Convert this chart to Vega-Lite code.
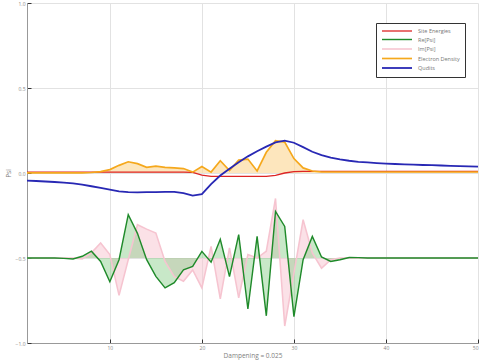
{
  "$schema": "https://vega.github.io/schema/vega-lite/v6.json",
  "autosize": "none",
  "width": 451,
  "height": 340,
  "padding": {"left": 27, "top": 3, "right": 2, "bottom": 17},
  "background": "white",
  "config": {
    "view": {"stroke": null},
    "font": "Open Sans",
    "axis": {
      "gridColor": "#e2e2e2",
      "gridWidth": 1,
      "domainColor": "#999999",
      "tickColor": "#333333",
      "tickSize": -4,
      "labelColor": "#888888",
      "labelFontSize": 5,
      "titleColor": "#808080",
      "titleFontWeight": "normal"
    }
  },
  "data": {
    "values": [
      {"x":1,"s":"Im[Psi]","y":-0.5},{"x":2,"s":"Im[Psi]","y":-0.5},{"x":3,"s":"Im[Psi]","y":-0.5},{"x":4,"s":"Im[Psi]","y":-0.5},{"x":5,"s":"Im[Psi]","y":-0.5},{"x":6,"s":"Im[Psi]","y":-0.5},{"x":7,"s":"Im[Psi]","y":-0.505},{"x":8,"s":"Im[Psi]","y":-0.47},{"x":9,"s":"Im[Psi]","y":-0.412},{"x":10,"s":"Im[Psi]","y":-0.48},
      {"x":11,"s":"Im[Psi]","y":-0.72},{"x":12,"s":"Im[Psi]","y":-0.51},{"x":13,"s":"Im[Psi]","y":-0.304},{"x":14,"s":"Im[Psi]","y":-0.33},{"x":15,"s":"Im[Psi]","y":-0.353},{"x":16,"s":"Im[Psi]","y":-0.52},{"x":17,"s":"Im[Psi]","y":-0.61},{"x":18,"s":"Im[Psi]","y":-0.637},{"x":19,"s":"Im[Psi]","y":-0.57},{"x":20,"s":"Im[Psi]","y":-0.676},
      {"x":21,"s":"Im[Psi]","y":-0.432},{"x":22,"s":"Im[Psi]","y":-0.74},{"x":23,"s":"Im[Psi]","y":-0.441},{"x":24,"s":"Im[Psi]","y":-0.735},{"x":25,"s":"Im[Psi]","y":-0.48},{"x":26,"s":"Im[Psi]","y":-0.5},{"x":27,"s":"Im[Psi]","y":-0.46},{"x":28,"s":"Im[Psi]","y":-0.15},{"x":29,"s":"Im[Psi]","y":-0.9},{"x":30,"s":"Im[Psi]","y":-0.59},
      {"x":31,"s":"Im[Psi]","y":-0.275},{"x":32,"s":"Im[Psi]","y":-0.47},{"x":33,"s":"Im[Psi]","y":-0.56},{"x":34,"s":"Im[Psi]","y":-0.51},{"x":35,"s":"Im[Psi]","y":-0.5},{"x":36,"s":"Im[Psi]","y":-0.5},{"x":37,"s":"Im[Psi]","y":-0.5},{"x":38,"s":"Im[Psi]","y":-0.5},{"x":39,"s":"Im[Psi]","y":-0.5},{"x":40,"s":"Im[Psi]","y":-0.5},
      {"x":41,"s":"Im[Psi]","y":-0.5},{"x":42,"s":"Im[Psi]","y":-0.5},{"x":43,"s":"Im[Psi]","y":-0.5},{"x":44,"s":"Im[Psi]","y":-0.5},{"x":45,"s":"Im[Psi]","y":-0.5},{"x":46,"s":"Im[Psi]","y":-0.5},{"x":47,"s":"Im[Psi]","y":-0.5},{"x":48,"s":"Im[Psi]","y":-0.5},{"x":49,"s":"Im[Psi]","y":-0.5},{"x":50,"s":"Im[Psi]","y":-0.5},

      {"x":1,"s":"Site Energies","y":0.005},{"x":2,"s":"Site Energies","y":0.005},{"x":3,"s":"Site Energies","y":0.005},{"x":4,"s":"Site Energies","y":0.005},{"x":5,"s":"Site Energies","y":0.005},{"x":6,"s":"Site Energies","y":0.005},{"x":7,"s":"Site Energies","y":0.005},{"x":8,"s":"Site Energies","y":0.005},{"x":9,"s":"Site Energies","y":0.005},{"x":10,"s":"Site Energies","y":0.005},
      {"x":11,"s":"Site Energies","y":0.005},{"x":12,"s":"Site Energies","y":0.005},{"x":13,"s":"Site Energies","y":0.005},{"x":14,"s":"Site Energies","y":0.005},{"x":15,"s":"Site Energies","y":0.005},{"x":16,"s":"Site Energies","y":0.005},{"x":17,"s":"Site Energies","y":0.005},{"x":18,"s":"Site Energies","y":0.005},{"x":19,"s":"Site Energies","y":0.004},{"x":20,"s":"Site Energies","y":-0.012},
      {"x":21,"s":"Site Energies","y":-0.02},{"x":22,"s":"Site Energies","y":-0.02},{"x":23,"s":"Site Energies","y":-0.02},{"x":24,"s":"Site Energies","y":-0.02},{"x":25,"s":"Site Energies","y":-0.02},{"x":26,"s":"Site Energies","y":-0.02},{"x":27,"s":"Site Energies","y":-0.02},{"x":28,"s":"Site Energies","y":-0.014},{"x":29,"s":"Site Energies","y":0.0},{"x":30,"s":"Site Energies","y":0.008},
      {"x":31,"s":"Site Energies","y":0.01},{"x":32,"s":"Site Energies","y":0.01},{"x":33,"s":"Site Energies","y":0.01},{"x":34,"s":"Site Energies","y":0.01},{"x":35,"s":"Site Energies","y":0.01},{"x":36,"s":"Site Energies","y":0.01},{"x":37,"s":"Site Energies","y":0.01},{"x":38,"s":"Site Energies","y":0.01},{"x":39,"s":"Site Energies","y":0.01},{"x":40,"s":"Site Energies","y":0.01},
      {"x":41,"s":"Site Energies","y":0.01},{"x":42,"s":"Site Energies","y":0.01},{"x":43,"s":"Site Energies","y":0.01},{"x":44,"s":"Site Energies","y":0.01},{"x":45,"s":"Site Energies","y":0.01},{"x":46,"s":"Site Energies","y":0.01},{"x":47,"s":"Site Energies","y":0.01},{"x":48,"s":"Site Energies","y":0.01},{"x":49,"s":"Site Energies","y":0.01},{"x":50,"s":"Site Energies","y":0.01},

      {"x":1,"s":"Re[Psi]","y":-0.5},{"x":2,"s":"Re[Psi]","y":-0.5},{"x":3,"s":"Re[Psi]","y":-0.5},{"x":4,"s":"Re[Psi]","y":-0.5},{"x":5,"s":"Re[Psi]","y":-0.502},{"x":6,"s":"Re[Psi]","y":-0.506},{"x":7,"s":"Re[Psi]","y":-0.49},{"x":8,"s":"Re[Psi]","y":-0.46},{"x":9,"s":"Re[Psi]","y":-0.52},{"x":10,"s":"Re[Psi]","y":-0.64},
      {"x":11,"s":"Re[Psi]","y":-0.51},{"x":12,"s":"Re[Psi]","y":-0.245},{"x":13,"s":"Re[Psi]","y":-0.355},{"x":14,"s":"Re[Psi]","y":-0.51},{"x":15,"s":"Re[Psi]","y":-0.608},{"x":16,"s":"Re[Psi]","y":-0.676},{"x":17,"s":"Re[Psi]","y":-0.645},{"x":18,"s":"Re[Psi]","y":-0.569},{"x":19,"s":"Re[Psi]","y":-0.549},{"x":20,"s":"Re[Psi]","y":-0.461},
      {"x":21,"s":"Re[Psi]","y":-0.525},{"x":22,"s":"Re[Psi]","y":-0.39},{"x":23,"s":"Re[Psi]","y":-0.61},{"x":24,"s":"Re[Psi]","y":-0.363},{"x":25,"s":"Re[Psi]","y":-0.8},{"x":26,"s":"Re[Psi]","y":-0.373},{"x":27,"s":"Re[Psi]","y":-0.84},{"x":28,"s":"Re[Psi]","y":-0.226},{"x":29,"s":"Re[Psi]","y":-0.314},{"x":30,"s":"Re[Psi]","y":-0.845},
      {"x":31,"s":"Re[Psi]","y":-0.51},{"x":32,"s":"Re[Psi]","y":-0.373},{"x":33,"s":"Re[Psi]","y":-0.494},{"x":34,"s":"Re[Psi]","y":-0.52},{"x":35,"s":"Re[Psi]","y":-0.51},{"x":36,"s":"Re[Psi]","y":-0.497},{"x":37,"s":"Re[Psi]","y":-0.498},{"x":38,"s":"Re[Psi]","y":-0.5},{"x":39,"s":"Re[Psi]","y":-0.5},{"x":40,"s":"Re[Psi]","y":-0.5},
      {"x":41,"s":"Re[Psi]","y":-0.5},{"x":42,"s":"Re[Psi]","y":-0.5},{"x":43,"s":"Re[Psi]","y":-0.5},{"x":44,"s":"Re[Psi]","y":-0.5},{"x":45,"s":"Re[Psi]","y":-0.5},{"x":46,"s":"Re[Psi]","y":-0.5},{"x":47,"s":"Re[Psi]","y":-0.5},{"x":48,"s":"Re[Psi]","y":-0.5},{"x":49,"s":"Re[Psi]","y":-0.5},{"x":50,"s":"Re[Psi]","y":-0.5},

      {"x":1,"s":"Electron Density","y":0.001},{"x":2,"s":"Electron Density","y":0.001},{"x":3,"s":"Electron Density","y":0.001},{"x":4,"s":"Electron Density","y":0.001},{"x":5,"s":"Electron Density","y":0.001},{"x":6,"s":"Electron Density","y":0.001},{"x":7,"s":"Electron Density","y":0.001},{"x":8,"s":"Electron Density","y":0.003},{"x":9,"s":"Electron Density","y":0.008},{"x":10,"s":"Electron Density","y":0.02},
      {"x":11,"s":"Electron Density","y":0.045},{"x":12,"s":"Electron Density","y":0.066},{"x":13,"s":"Electron Density","y":0.055},{"x":14,"s":"Electron Density","y":0.033},{"x":15,"s":"Electron Density","y":0.04},{"x":16,"s":"Electron Density","y":0.033},{"x":17,"s":"Electron Density","y":0.03},{"x":18,"s":"Electron Density","y":0.026},{"x":19,"s":"Electron Density","y":0.005},{"x":20,"s":"Electron Density","y":0.038},
      {"x":21,"s":"Electron Density","y":0.005},{"x":22,"s":"Electron Density","y":0.072},{"x":23,"s":"Electron Density","y":0.014},{"x":24,"s":"Electron Density","y":0.076},{"x":25,"s":"Electron Density","y":0.082},{"x":26,"s":"Electron Density","y":0.012},{"x":27,"s":"Electron Density","y":0.122},{"x":28,"s":"Electron Density","y":0.19},{"x":29,"s":"Electron Density","y":0.182},{"x":30,"s":"Electron Density","y":0.085},
      {"x":31,"s":"Electron Density","y":0.03},{"x":32,"s":"Electron Density","y":0.012},{"x":33,"s":"Electron Density","y":0.006},{"x":34,"s":"Electron Density","y":0.006},{"x":35,"s":"Electron Density","y":0.006},{"x":36,"s":"Electron Density","y":0.006},{"x":37,"s":"Electron Density","y":0.006},{"x":38,"s":"Electron Density","y":0.006},{"x":39,"s":"Electron Density","y":0.006},{"x":40,"s":"Electron Density","y":0.006},
      {"x":41,"s":"Electron Density","y":0.006},{"x":42,"s":"Electron Density","y":0.006},{"x":43,"s":"Electron Density","y":0.006},{"x":44,"s":"Electron Density","y":0.006},{"x":45,"s":"Electron Density","y":0.006},{"x":46,"s":"Electron Density","y":0.006},{"x":47,"s":"Electron Density","y":0.006},{"x":48,"s":"Electron Density","y":0.006},{"x":49,"s":"Electron Density","y":0.006},{"x":50,"s":"Electron Density","y":0.006},

      {"x":1,"s":"Qudits","y":-0.045},{"x":2,"s":"Qudits","y":-0.047},{"x":3,"s":"Qudits","y":-0.05},{"x":4,"s":"Qudits","y":-0.053},{"x":5,"s":"Qudits","y":-0.057},{"x":6,"s":"Qudits","y":-0.061},{"x":7,"s":"Qudits","y":-0.068},{"x":8,"s":"Qudits","y":-0.078},{"x":9,"s":"Qudits","y":-0.088},{"x":10,"s":"Qudits","y":-0.098},
      {"x":11,"s":"Qudits","y":-0.108},{"x":12,"s":"Qudits","y":-0.113},{"x":13,"s":"Qudits","y":-0.114},{"x":14,"s":"Qudits","y":-0.113},{"x":15,"s":"Qudits","y":-0.112},{"x":16,"s":"Qudits","y":-0.111},{"x":17,"s":"Qudits","y":-0.111},{"x":18,"s":"Qudits","y":-0.118},{"x":19,"s":"Qudits","y":-0.133},{"x":20,"s":"Qudits","y":-0.124},
      {"x":21,"s":"Qudits","y":-0.065},{"x":22,"s":"Qudits","y":-0.015},{"x":23,"s":"Qudits","y":0.025},{"x":24,"s":"Qudits","y":0.063},{"x":25,"s":"Qudits","y":0.098},{"x":26,"s":"Qudits","y":0.128},{"x":27,"s":"Qudits","y":0.155},{"x":28,"s":"Qudits","y":0.18},{"x":29,"s":"Qudits","y":0.19},{"x":30,"s":"Qudits","y":0.178},
      {"x":31,"s":"Qudits","y":0.152},{"x":32,"s":"Qudits","y":0.125},{"x":33,"s":"Qudits","y":0.105},{"x":34,"s":"Qudits","y":0.09},{"x":35,"s":"Qudits","y":0.08},{"x":36,"s":"Qudits","y":0.072},{"x":37,"s":"Qudits","y":0.066},{"x":38,"s":"Qudits","y":0.062},{"x":39,"s":"Qudits","y":0.058},{"x":40,"s":"Qudits","y":0.055},
      {"x":41,"s":"Qudits","y":0.053},{"x":42,"s":"Qudits","y":0.051},{"x":43,"s":"Qudits","y":0.049},{"x":44,"s":"Qudits","y":0.047},{"x":45,"s":"Qudits","y":0.046},{"x":46,"s":"Qudits","y":0.044},{"x":47,"s":"Qudits","y":0.042},{"x":48,"s":"Qudits","y":0.04},{"x":49,"s":"Qudits","y":0.039},{"x":50,"s":"Qudits","y":0.037}
    ]
  },
  "encoding": {
    "x": {
      "field": "x", "type": "quantitative",
      "scale": {"domain": [1, 50], "nice": false, "zero": false},
      "axis": {"values": [10, 20, 30, 40, 50], "title": "Dampening = 0.025", "titleFontSize": 6.5, "titlePadding": 2, "labelPadding": 6}
    },
    "y": {
      "field": "y", "type": "quantitative",
      "scale": {"domain": [-1, 1], "nice": false},
      "axis": {"values": [-1, -0.5, 0, 0.5, 1], "format": ".1f", "title": "Psi", "titleFontSize": 6.5, "titlePadding": 4, "labelPadding": 6}
    }
  },
  "layer": [
    {
      "transform": [{"filter": "datum.s === 'Im[Psi]'"}],
      "mark": {"type": "area", "color": "#f7c3d0", "opacity": 0.5},
      "encoding": {"y2": {"datum": -0.5}}
    },
    {
      "transform": [{"filter": "datum.s === 'Re[Psi]'"}],
      "mark": {"type": "area", "color": "#84cc84", "opacity": 0.45},
      "encoding": {"y2": {"datum": -0.5}}
    },
    {
      "transform": [{"filter": "datum.s === 'Electron Density'"}],
      "mark": {"type": "area", "color": "#fcd89a", "opacity": 0.65},
      "encoding": {"y2": {"datum": 0}}
    },
    {
      "mark": {"type": "line"},
      "encoding": {
        "color": {
          "field": "s", "type": "nominal",
          "scale": {
            "domain": ["Site Energies", "Re[Psi]", "Im[Psi]", "Electron Density", "Qudits"],
            "range": ["#dd2424", "#1f8a2a", "#f6c4d0", "#f5a81c", "#2828b4"]
          },
          "legend": {
            "title": null, "orient": "none", "legendX": 349, "legendY": 20,
            "strokeColor": "#333333", "fillColor": "white", "padding": 5,
            "symbolType": "M-1,0H14", "symbolSize": 16, "symbolStrokeWidth": 1.8,
            "labelFontSize": 5.5, "labelColor": "#777777", "rowPadding": 1.5, "labelOffset": 31,
            "encode": {
              "symbols": {"update": {"strokeWidth": {"signal": "datum.label === 'Electron Density' ? 3 : 1.6"}}}
            }
          }
        },
        "strokeWidth": {
          "field": "s", "type": "nominal",
          "scale": {
            "domain": ["Site Energies", "Re[Psi]", "Im[Psi]", "Electron Density", "Qudits"],
            "range": [1.3, 1.8, 1.8, 3.2, 1.4]
          },
          "legend": null
        },
        "order": {"field": "x", "type": "quantitative"}
      }
    }
  ]
}
